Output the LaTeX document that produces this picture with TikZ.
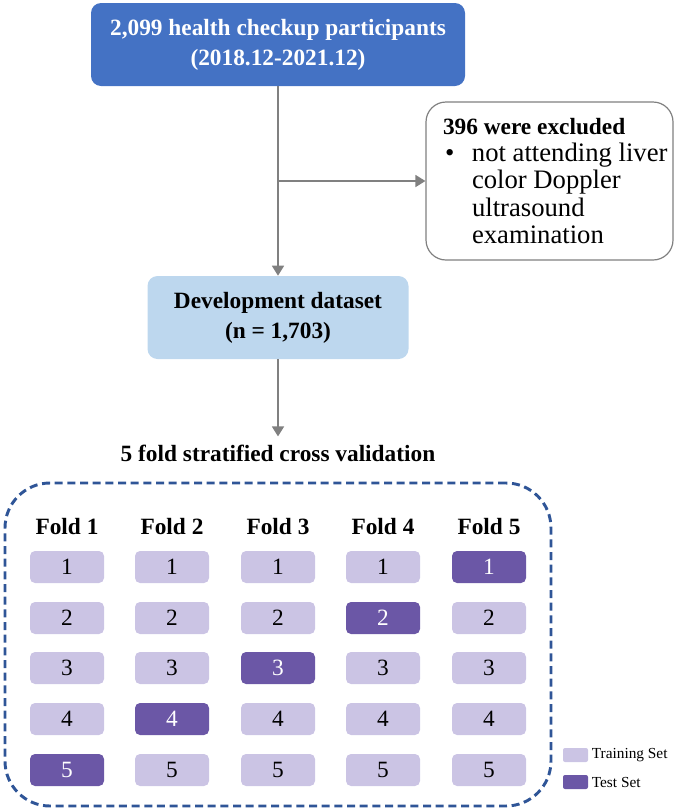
\documentclass[tikz,border=0pt]{standalone}
\usepackage{fontspec}
\setmainfont{Liberation Serif}
\usetikzlibrary{arrows.meta,positioning,calc}
\definecolor{topblue}{RGB}{68,114,196}
\definecolor{devblue}{RGB}{189,215,238}
\definecolor{trainlila}{RGB}{203,196,228}
\definecolor{testlila}{RGB}{107,87,166}
\definecolor{dashblue}{RGB}{47,85,151}
\definecolor{arrgray}{RGB}{128,128,128}

\begin{document}
\begin{tikzpicture}[x=0.75pt, y=-0.75pt,
			bigfont/.style={font=\fontsize{17.5}{22.5}\selectfont\bfseries},
			topbox/.style={rectangle, rounded corners=7.5pt, fill=topblue, text=white,
				bigfont, align=center, minimum width=280.5pt, minimum height=62.25pt, inner sep=0pt},
			devbox/.style={topbox, fill=devblue, text=black, minimum width=195.75pt},
			exclbox/.style={rectangle, rounded corners=15pt, draw=arrgray, line width=0.9pt,
				align=flush left, text width=181.25pt, minimum height=118.5pt, inner xsep=2pt,
				font=\fontsize{20}{20.6}\selectfont},
			fold/.style={bigfont},
			train/.style={rectangle, rounded corners=3.75pt, fill=trainlila, minimum width=55.5pt,
				minimum height=24pt, inner sep=0pt, font=\fontsize{17.5}{20}\selectfont},
			test/.style={train, fill=testlila, text=white},
			key/.style={rectangle, rounded corners=1.5pt, minimum width=18.75pt, minimum height=10.5pt, inner sep=0pt},
			arr/.style={-{Triangle[width=9pt,length=7.5pt]}, line width=1.2pt, arrgray}]
	
	\useasboundingbox (0,0) rectangle (677,811);
	
	% Flow part
	\node[topbox] (top) at (278,44.5) {2,099 health checkup participants\\(2018.12-2021.12)};
	\node[exclbox] (excl) at (549.5,181) {\hspace*{10.75pt}{\fontsize{17.5}{20.6}\selectfont\bfseries 396 were excluded}\\
		\hspace*{10.75pt}\makebox[21.75pt][l]{\hspace{1.5pt}\textbullet}not attending liver\\
		\hspace*{32.5pt}color Doppler\\
		\hspace*{32.5pt}ultrasound\\
		\hspace*{32.5pt}examination};
	\node[devbox] (dev) at (278,317.5) {Development dataset\\(n = 1,703)};
	\node[bigfont, inner ysep=6pt] (cv) at (278,453) {5 fold stratified cross validation};
	\coordinate (split) at (top.south |- excl.west);
	
	% Arrows
	\draw[arr] (top.south) -- (top.south |- dev.north);
	\draw[arr] (split) -- (excl.west);
	\draw[arr] (dev.south) -- (cv.north);
	
	% Frame around the folds
	\node[rectangle, draw=dashblue, line width=2.2pt, dash pattern=on 6pt off 3.5pt,
		rounded corners=33.75pt, minimum width=409.5pt, minimum height=242.25pt] (frame) at (278,644.5) {};
	
	% Fold headers
	\node[fold] (f1) at (67,527)  {Fold 1};
	\node[fold] (f2) at (172,527) {Fold 2};
	\node[fold] (f3) at (278,527) {Fold 3};
	\node[fold] (f4) at (383,527) {Fold 4};
	\node[fold] (f5) at (489,527) {Fold 5};
	
	% Row 1
	\node[train] (c11) at (67,567)  {1};
	\node[train] (c21) at (172,567) {1};
	\node[train] (c31) at (278,567) {1};
	\node[train] (c41) at (383,567) {1};
	\node[test]  (c51) at (489,567) {1};
	% Row 2
	\node[train] (c12) at (67,618)  {2};
	\node[train] (c22) at (172,618) {2};
	\node[train] (c32) at (278,618) {2};
	\node[test]  (c42) at (383,618) {2};
	\node[train] (c52) at (489,618) {2};
	% Row 3
	\node[train] (c13) at (67,668)  {3};
	\node[train] (c23) at (172,668) {3};
	\node[test]  (c33) at (278,668) {3};
	\node[train] (c43) at (383,668) {3};
	\node[train] (c53) at (489,668) {3};
	% Row 4
	\node[train] (c14) at (67,719)  {4};
	\node[test]  (c24) at (172,719) {4};
	\node[train] (c34) at (278,719) {4};
	\node[train] (c44) at (383,719) {4};
	\node[train] (c54) at (489,719) {4};
	% Row 5
	\node[test]  (c15) at (67,770)  {5};
	\node[train] (c25) at (172,770) {5};
	\node[train] (c35) at (278,770) {5};
	\node[train] (c45) at (383,770) {5};
	\node[train] (c55) at (489,770) {5};
	
	% Legend
	\node[key, fill=trainlila] (ktrain) at (575.5,755) {};
	\node[key, fill=testlila]  (ktest)  at (575.5,782) {};
	\node[right=2.5pt of ktrain, inner sep=0pt, font=\fontsize{11.5}{13}\selectfont] (ltrain) {Training Set};
	\node[right=2.5pt of ktest, inner sep=0pt, font=\fontsize{11.5}{13}\selectfont]  (ltest)  {Test Set};
\end{tikzpicture}
\end{document}
